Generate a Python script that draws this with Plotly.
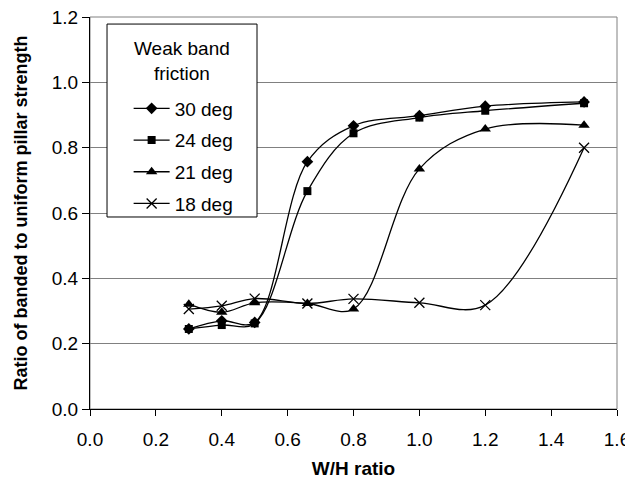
import plotly.graph_objects as go

wh_ratio = [0.3, 0.4, 0.5, 0.66, 0.8, 1.0, 1.2, 1.5]
series_names = ["30 deg", "24 deg", "21 deg", "18 deg"]
deg30 = [0.245, 0.270, 0.265, 0.757, 0.867, 0.898, 0.927, 0.940]
deg24 = [0.245, 0.257, 0.262, 0.667, 0.844, 0.892, 0.913, 0.936]
deg21 = [0.321, 0.296, 0.325, 0.323, 0.306, 0.735, 0.857, 0.869]
deg18 = [0.306, 0.316, 0.338, 0.323, 0.337, 0.325, 0.318, 0.800]
x_ticks = [0.0, 0.2, 0.4, 0.6, 0.8, 1.0, 1.2, 1.4, 1.6]
y_ticks = [0.0, 0.2, 0.4, 0.6, 0.8, 1.0, 1.2]
legend_title = "Weak band<br>friction"

FONT = "Liberation Sans, Arial, sans-serif"
values = [deg30, deg24, deg21, deg18]
symbols = ["diamond", "square", "triangle-up", "x-thin"]
sizes = [9, 8, 10, 10]

fig = go.Figure()
for i, (name, vals) in enumerate(zip(series_names, values)):
    marker = dict(symbol=symbols[i], size=sizes[i], color="black")
    if symbols[i] == "x-thin":
        marker["line"] = dict(color="black", width=1.3)
    fig.add_trace(go.Scatter(
        x=wh_ratio, y=vals, name=name, mode="lines+markers",
        line=dict(color="black", width=1.3, shape="spline", smoothing=1.0),
        marker=marker, legendgroup=name,
    ))

# plot-area frame (gray) behind data
fig.add_shape(type="rect", xref="x domain", yref="y domain", x0=0, x1=1, y0=0, y1=1,
              line=dict(color="#808080", width=1), layer="below")
# legend box
fig.add_shape(type="rect", xref="x domain", yref="y domain",
              x0=0.0323, x1=0.3169, y0=0.4898, y1=0.982,
              line=dict(color="black", width=1), fillcolor="white", layer="above")
fig.add_annotation(text=legend_title, xref="x domain", yref="y domain",
                   x=0.1746, y=0.889, xanchor="center", yanchor="middle",
                   showarrow=False, align="center",
                   font=dict(family=FONT, size=19, color="black"))

# the page body adds an 8px margin, so the figure is 8px smaller and shifted
fig.update_layout(
    width=625, height=474,
    margin=dict(l=82, r=16, t=9, b=73),
    paper_bgcolor="white", plot_bgcolor="white",
    font=dict(family=FONT, size=19, color="black"),
    showlegend=True,
    legend=dict(
        x=0.0733, y=0.815, xanchor="left", yanchor="top",
        bgcolor="rgba(0,0,0,0)", borderwidth=0,
        font=dict(family=FONT, size=19, color="black"),
        tracegroupgap=4, itemwidth=36,
    ),
    xaxis=dict(
        range=[0, 1.6], tickvals=x_ticks, ticktext=[f"{v:.1f}" for v in x_ticks],
        showgrid=False, zeroline=False, automargin=False,
        showline=True, linecolor="black", linewidth=1.3,
        ticks="outside", ticklen=6, tickcolor="black", tickwidth=1,
        ticklabelstandoff=7, ticklabeloverflow="allow",
        tickfont=dict(family=FONT, size=19),
        title=dict(text="<b>W/H ratio</b>", font=dict(family=FONT, size=19), standoff=12),
    ),
    yaxis=dict(
        range=[0, 1.2], tickvals=y_ticks, ticktext=[f"{v:.1f}" for v in y_ticks],
        showgrid=True, gridcolor="#808080", gridwidth=1, zeroline=False, automargin=False,
        showline=True, linecolor="black", linewidth=1.3,
        ticks="outside", ticklen=7, tickcolor="black", tickwidth=1,
        ticklabeloverflow="allow",
        tickfont=dict(family=FONT, size=19),
        title=dict(text="<b>Ratio of banded to uniform pillar strength</b>",
                   font=dict(family=FONT, size=18), standoff=19),
    ),
)

fig.write_html("out.html")
